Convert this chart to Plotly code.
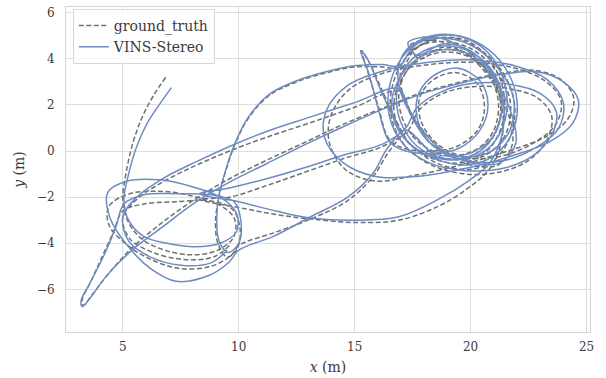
import plotly.graph_objects as go

gt_xy = [
    (6.85,3.2),(6.35,2.45),(5.85,1.5),(5.45,0.4),(5.15,-0.9),(5.0,-2.1),
    (5.2,-3.0),(5.8,-3.8),(6.8,-4.3),(8.0,-4.5),(9.1,-4.3),(9.8,-3.7),(9.8,-2.9),(9.1,-2.3),(8.0,-1.95),(6.7,-1.75),(5.3,-1.85),(4.4,-2.4),(4.4,-3.2),(5.1,-4.0),(6.2,-4.7),(7.5,-5.1),(8.8,-5.0),(9.7,-4.5),(10.0,-4.1),
    (11.5,-3.55),(13.1,-2.95),(14.7,-2.15),(15.8,-1.1),(16.5,0.0),(17.3,0.8),
    (18.5,-0.2),(19.8,-0.3),(20.9,0.5),(21.3,1.8),(21.0,3.1),(20.1,4.0),(18.9,4.3),(17.7,3.9),(16.9,2.9),(16.7,1.7),(17.2,0.5),(18.3,-0.3),(19.7,-0.5),(20.8,0.1),(21.4,1.3),(21.4,2.7),(20.8,4.0),(19.8,4.8),(18.6,4.9),(17.6,4.4),(17.0,3.6),
    (16.2,3.65),(15.0,3.65),(13.8,3.4),(12.5,3.0),(11.3,2.4),(10.4,1.4),(9.8,0.2),(9.4,-1.0),(9.15,-2.0),
    (9.0,-3.0),(9.1,-4.0),(9.5,-4.6),(9.95,-4.2),(10.05,-3.3),(9.7,-2.5),(8.7,-2.15),(7.3,-2.2),(5.9,-2.3),(5.0,-2.6),
    (4.6,-3.5),(4.1,-4.6),(3.6,-5.7),(3.25,-6.45),(3.3,-6.7),(3.7,-6.2),(4.4,-5.3),
    (5.4,-4.2),(6.7,-3.1),(8.1,-2.1),(9.6,-1.2),(11.2,-0.4),(12.9,0.4),(14.6,1.2),(16.3,1.9),(17.8,2.5),(19.2,2.9),(20.4,3.2),(21.5,3.4),
    (22.8,3.5),(23.9,3.1),(24.45,2.3),(24.2,1.4),(23.2,0.6),(21.6,0.0),(19.6,-0.6),(17.6,-1.05),(15.9,-1.3),(14.6,-0.8),(13.9,0.4),(14.0,1.6),(14.8,2.7),(16.3,3.4),(18.2,3.75),(20.1,3.85),(21.9,3.6),(23.2,3.05),(23.9,2.2),(23.7,1.2),
    (22.8,0.4),(21.4,-0.2),(20.0,-0.3),(18.7,0.2),(17.9,1.2),(17.8,2.3),(18.4,3.1),(19.4,3.4),(20.3,2.9),(20.6,1.9),(20.3,0.9),(19.4,0.2),(18.3,0.0),(17.2,0.1),
    (16.5,0.5),(16.0,2.0),(15.55,3.5),(15.3,4.35),(15.6,3.9),(16.2,2.6),(16.8,1.3),(17.4,0.3),
    (18.5,-0.5),(19.9,-0.8),(21.0,-0.4),(21.7,0.6),(21.9,2.0),(21.4,3.4),(20.4,4.4),(19.2,4.9),(18.0,4.7),(17.1,3.9),(16.6,2.7),(16.6,1.4),(17.2,0.2),(18.3,-0.6),(19.8,-1.0),(21.3,-0.9),(22.5,-0.4),(23.3,0.5),(23.5,1.5),(22.9,2.3),(21.7,2.7),(20.2,2.8),(18.8,2.5),(17.8,1.8),(17.3,0.9),
    (16.2,0.2),(14.6,-0.3),(12.9,-0.9),(11.2,-1.5),(9.6,-2.0),(8.3,-2.1),
    (10.0,-2.45),(11.6,-2.75),(13.1,-2.95),(15.0,-3.1),(16.9,-3.0),(18.6,-2.4),(19.9,-1.6),(20.8,-0.8),(21.3,0.3),(21.4,1.5),
    (21.1,2.8),(20.3,3.9),(19.2,4.4),(18.0,4.2),(17.2,3.4),(16.9,2.3),(17.2,1.1),(18.0,0.2),(19.2,-0.2),(20.3,0.1),(21.0,0.9),(21.2,2.1),(20.8,3.3),(19.9,4.2),(18.8,4.5),(17.8,4.0),
    (17.4,4.6),(18.4,4.8),(19.7,4.3),(20.8,3.2),(21.6,1.7),(21.8,0.3),(21.2,-0.6),(20.0,-0.6),(18.8,0.0),(17.8,1.1),(17.1,2.4),(17.0,3.6),(17.5,4.4),(18.6,4.75),(19.9,4.5),(21.0,3.6),(21.7,2.2),(21.5,0.7),(20.6,-0.2),(19.4,-0.3),(18.3,0.3),(17.5,1.5),
    (16.9,2.6),(15.0,1.9),(13.0,1.2),(11.2,0.6),(9.6,0.0),(8.2,-0.6),(6.8,-1.3),(5.6,-2.1),(5.0,-2.9),(5.3,-3.8),(6.3,-4.4),(7.6,-4.7),(8.9,-4.6),(9.6,-4.1),
]

# estimated trajectory (x, y) in metres
vins_xy = [
    (7.1,2.75),(6.6,2.05),(6.05,1.2),(5.6,0.2),(5.25,-1.0),(5.05,-2.1),
    (5.25,-3.0),(5.9,-3.7),(6.9,-4.0),(8.1,-4.15),(9.2,-4.0),(9.9,-3.5),(9.9,-2.7),(9.2,-2.0),(8.0,-1.55),(6.6,-1.25),(5.2,-1.3),(4.35,-1.8),(4.45,-2.9),(5.2,-4.1),(6.2,-5.1),(7.3,-5.65),(8.7,-5.4),(9.6,-4.8),(10.0,-4.3),
    (11.5,-3.7),(13.1,-2.85),(14.7,-2.0),(15.8,-0.95),(16.4,0.1),(17.2,0.9),
    (18.4,-0.1),(19.8,-0.15),(20.95,0.6),(21.35,1.9),(21.05,3.2),(20.15,4.1),(18.9,4.4),(17.7,4.0),(16.85,3.0),(16.6,1.8),(17.1,0.6),(18.2,-0.2),(19.7,-0.35),(20.85,0.2),(21.5,1.4),(21.5,2.8),(20.9,4.1),(19.9,4.85),(18.6,5.0),(17.5,4.5),(16.95,3.7),
    (16.2,3.75),(15.0,3.7),(13.8,3.45),(12.5,3.05),(11.3,2.45),(10.4,1.45),(9.8,0.25),(9.4,-0.95),(9.15,-1.9),
    (9.05,-2.9),(9.15,-3.9),(9.55,-4.4),(10.0,-4.0),(10.1,-3.1),(9.8,-2.2),(8.8,-1.9),(7.3,-1.85),(5.9,-1.9),(5.05,-2.3),
    (4.7,-3.3),(4.2,-4.5),(3.6,-5.7),(3.2,-6.5),(3.25,-6.75),(3.65,-6.3),(4.35,-5.35),
    (5.4,-4.3),(6.7,-3.3),(8.1,-2.25),(9.6,-1.35),(11.2,-0.55),(12.9,0.3),(14.6,1.1),(16.3,1.85),(17.8,2.45),(19.2,2.85),(20.4,3.15),(21.5,3.35),
    (22.8,3.45),(24.0,3.0),(24.65,2.2),(24.4,1.2),(23.4,0.4),(21.8,-0.2),(19.8,-0.75),(17.7,-1.1),(15.9,-1.1),(14.5,-0.5),(13.7,0.6),(13.8,1.8),(14.7,2.85),(16.3,3.5),(18.2,3.85),(20.1,3.95),(21.9,3.7),(23.3,3.1),(24.0,2.1),(23.8,1.0),
    (22.9,0.2),(21.5,-0.4),(20.0,-0.45),(18.6,0.05),(17.8,1.1),(17.7,2.3),(18.3,3.2),(19.4,3.6),(20.4,3.05),(20.75,2.0),(20.4,0.9),(19.45,0.1),(18.3,-0.1),(17.2,0.0),
    (16.5,0.4),(16.0,1.9),(15.6,3.4),(15.25,4.35),(15.55,4.0),(16.1,2.7),(16.7,1.4),(17.3,0.4),
    (18.5,-0.35),(19.9,-0.6),(21.0,-0.2),(21.8,0.8),(22.0,2.2),(21.5,3.6),(20.5,4.6),(19.2,5.05),(17.9,4.85),(17.0,4.0),(16.5,2.8),(16.5,1.5),(17.1,0.3),(18.2,-0.5),(19.8,-0.85),(21.4,-0.75),(22.7,-0.2),(23.5,0.7),(23.7,1.7),(23.0,2.5),(21.7,2.9),(20.2,2.95),(18.8,2.6),(17.7,1.9),(17.2,1.0),
    (16.2,0.3),(14.6,-0.15),(12.9,-0.7),(11.2,-1.2),(9.6,-1.6),(8.3,-1.85),
    (10.0,-2.2),(11.6,-2.6),(13.1,-2.9),(15.0,-3.0),(16.9,-2.85),(18.6,-2.1),(19.9,-1.3),(20.8,-0.55),(21.3,0.5),(21.45,1.7),
    (21.2,3.0),(20.4,4.05),(19.2,4.55),(18.0,4.35),(17.1,3.5),(16.8,2.3),(17.1,1.0),(17.9,0.05),(19.2,-0.35),(20.4,0.0),(21.1,0.9),(21.35,2.2),(20.9,3.4),(20.0,4.35),(18.8,4.65),(17.7,4.15),
    (17.3,4.7),(18.4,4.95),(19.8,4.4),(20.9,3.3),(21.7,1.8),(21.95,0.35),(21.3,-0.5),(20.0,-0.5),(18.7,0.1),(17.7,1.2),(17.0,2.5),(16.9,3.7),(17.4,4.55),(18.6,4.9),(20.0,4.6),(21.1,3.7),(21.85,2.3),(21.65,0.8),(20.7,-0.1),(19.4,-0.2),(18.2,0.4),(17.4,1.6),
    (16.9,2.7),(15.0,2.1),(13.0,1.45),(11.2,0.85),(9.6,0.2),(8.2,-0.45),(6.8,-1.15),(5.6,-2.0),(5.0,-2.85),(5.25,-3.9),(6.2,-4.6),(7.5,-4.95),(8.8,-4.85),(9.5,-4.3),
]

series_names = ["ground_truth", "VINS-Stereo"]
x_ticks = [5, 10, 15, 20, 25]
y_ticks = [-6, -4, -2, 0, 2, 4, 6]

gt_x = [p[0] for p in gt_xy]
gt_y = [p[1] for p in gt_xy]
vins_x = [p[0] for p in vins_xy]
vins_y = [p[1] for p in vins_xy]

FONT = "DejaVu Serif"
TXT = "#3a3a3a"

fig = go.Figure()
fig.add_trace(go.Scatter(
    x=gt_x, y=gt_y, mode="lines", name=series_names[0],
    line=dict(color="#707070", width=1.5, dash="5px,2.5px", shape="spline", smoothing=1.0),
))
fig.add_trace(go.Scatter(
    x=vins_x, y=vins_y, mode="lines", name=series_names[1],
    line=dict(color="#6d8cc2", width=1.5, shape="spline", smoothing=1.0),
))

axis_common = dict(
    showgrid=True, gridcolor="#dedede", gridwidth=1,
    zeroline=False, showline=True, mirror=True, linecolor="#d6d6d6", linewidth=1,
    ticks="", tickfont=dict(family=FONT, size=12, color=TXT), automargin=False,
)
fig.update_xaxes(range=[2.55, 25.15], tickvals=x_ticks, ticklabelstandoff=4,
                 title=dict(text="<i>x</i> (m)", font=dict(family=FONT, size=14, color=TXT), standoff=8),
                 **axis_common)
fig.update_yaxes(range=[-7.85, 6.25], tickvals=y_ticks, ticklabelstandoff=8,
                 title=dict(text="<i>y</i> (m)", font=dict(family=FONT, size=14, color=TXT), standoff=8),
                 **axis_common)

fig.update_layout(
    width=606, height=378,
    margin=dict(l=66, r=16, t=7, b=46),
    paper_bgcolor="white", plot_bgcolor="white",
    font=dict(family=FONT, color=TXT),
    legend=dict(
        x=0.013, y=0.994, xanchor="left", yanchor="top",
        bgcolor="rgba(255,255,255,0.85)", bordercolor="#d8d8d8", borderwidth=1,
        font=dict(family=FONT, size=14, color=TXT),
        itemwidth=30, tracegroupgap=0,
    ),
    showlegend=True,
)

fig.write_html("out.html", config={"displayModeBar": False},
               post_script="document.body.style.margin='0';document.body.style.overflow='hidden';")
